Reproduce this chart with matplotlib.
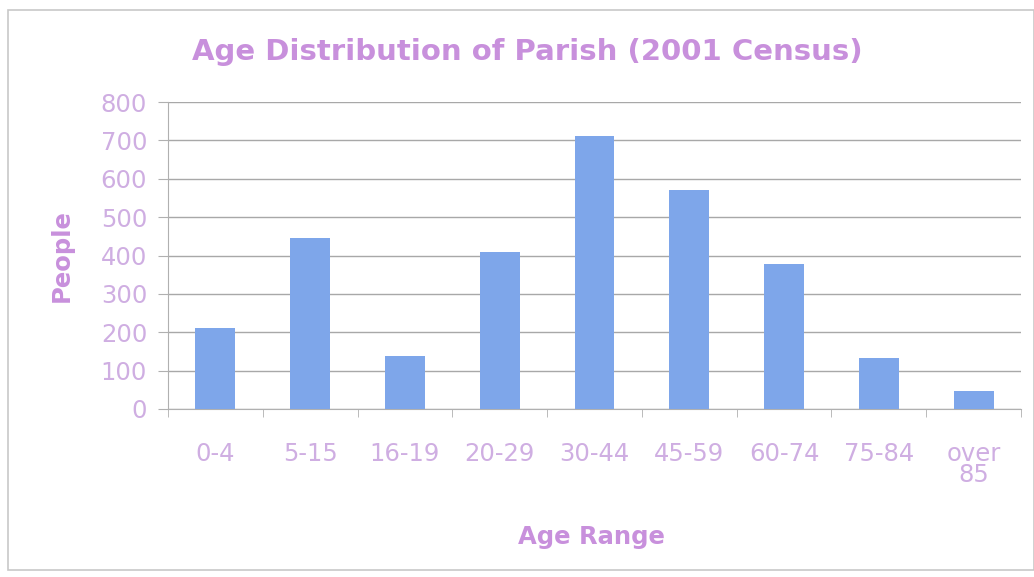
import matplotlib
matplotlib.use("Agg")
import matplotlib.pyplot as plt
from matplotlib.patches import Rectangle

categories = ["0-4", "5-15", "16-19", "20-29", "30-44", "45-59", "60-74", "75-84", "over\n85"]
people = [210, 445, 137, 408, 712, 570, 378, 133, 48]
yticks = [0, 100, 200, 300, 400, 500, 600, 700, 800]

plt.rcParams['font.family'] = ['DejaVu Sans']
lilac = "#cfaee2"
title_col = "#c890dc"
bar_col = "#7ea6ea"

fig = plt.figure(figsize=(10.34, 5.77), dpi=100)
fig.patches.append(Rectangle((8/1034, 7/577), 1 - 8/1034, 1 - 17/577, transform=fig.transFigure,
                             fill=False, edgecolor="#c8c8c8", linewidth=1.2))
ax = fig.add_axes([168/1034, 1 - 409/577, (1021 - 168)/1034, (409 - 102)/577])

x = list(range(len(categories)))
ax.bar(x, people, width=0.42, color=bar_col, zorder=3)
ax.set_xlim(-0.5, len(categories) - 0.5)
ax.set_ylim(0, 800)
ax.set_yticks(yticks)
ax.set_yticklabels([str(v) for v in yticks], color=lilac, fontsize=17.5)
ax.set_xticks(x)
ax.set_xticklabels(categories, color=lilac, fontsize=17.5, va='top', linespacing=0.8)
ax.set_xticks([i - 0.5 for i in range(len(categories) + 1)], minor=True)
ax.tick_params(axis='x', which='major', length=0, pad=24)
ax.tick_params(axis='x', which='minor', length=6, color="#b0b0b0", direction='out')
ax.tick_params(axis='y', length=7, color="#b0b0b0", pad=8)
ax.grid(axis='y', color="#a8a8a8", linewidth=1.0, zorder=0)
for s in ['top', 'right']:
    ax.spines[s].set_visible(False)
ax.spines['left'].set_color("#b0b0b0")
ax.spines['bottom'].set_color("#b0b0b0")

fig.text(527/1034, 1 - 52/577, "Age Distribution of Parish (2001 Census)", ha='center', va='center',
         color=title_col, fontsize=21, fontweight='bold')
fig.text(62/1034, 1 - 256/577, "People", rotation=90, ha='center', va='center', color=title_col,
         fontsize=17.5, fontweight='bold')
fig.text(591/1034, 1 - 537/577, "Age Range", ha='center', va='center', color=title_col,
         fontsize=17.5, fontweight='bold')

fig.savefig("out.png", dpi=100, facecolor='white')
